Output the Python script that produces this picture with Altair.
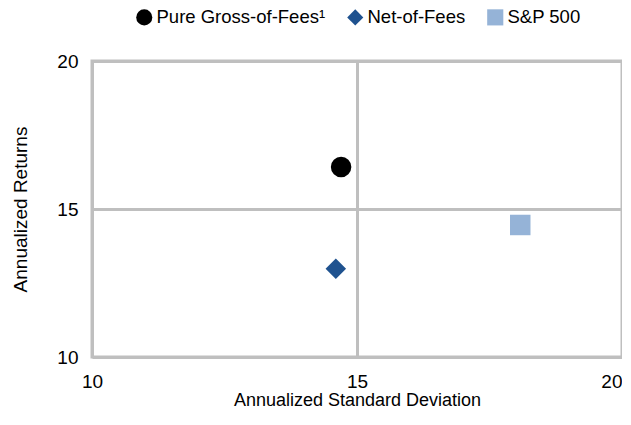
import altair as alt
import pandas as pd

series = ["Pure Gross-of-Fees\u00b9", "Net-of-Fees", "S&P 500"]
std_dev = [14.70, 14.60, 18.08]
returns = [16.42, 12.98, 14.46]
shapes = ["circle", "diamond", "square"]
colors = ["#000000", "#1F528F", "#95B3D7"]

df = pd.DataFrame({"series": series, "sd": std_dev, "ret": returns})

FONT = "Liberation Sans"
GRID = "#BFBFBF"
FS = 19

chart = alt.Chart(df).mark_point(filled=True, size=420, opacity=1).encode(
    x=alt.X("sd:Q", title="Annualized Standard Deviation",
            scale=alt.Scale(domain=[10, 20], nice=False, zero=False),
            axis=alt.Axis(values=[10, 15, 20], tickSize=0, labelPadding=15,
                          domain=False, gridColor=GRID, gridWidth=3,
                          labelAlign=alt.ExprRef("datum.value == 20 ? 'right' : 'center'"),
                          titleY=48, titleFontSize=18, titleBaseline="alphabetic",
                          labelFlush=False)),
    y=alt.Y("ret:Q", title="Annualized Returns",
            scale=alt.Scale(domain=[10, 20], nice=False, zero=False),
            axis=alt.Axis(values=[10, 15, 20], tickSize=0, labelPadding=14,
                          domain=False, gridColor=GRID, gridWidth=3,
                          titleX=-66, titleY=148, titleAngle=-90,
                          titleBaseline="alphabetic", titleAlign="center",
                          labelFlush=False)),
    shape=alt.Shape("series:N", scale=alt.Scale(domain=series, range=shapes),
                    legend=alt.Legend(title=None, orient="none", direction="horizontal",
                                      legendX=43, legendY=-53, symbolSize=260,
                                      labelOffset=3, columnPadding=20, labelLimit=400)),
    color=alt.Color("series:N", scale=alt.Scale(domain=series, range=colors)),
).properties(
    width=530, height=296,
    autosize=alt.AutoSizeParams(type="none"),
    padding={"left": 84, "top": 53, "right": 0, "bottom": 52},
).configure_view(
    stroke=GRID, strokeWidth=3
).configure_axis(
    labelFont=FONT, titleFont=FONT, labelFontSize=FS, titleFontSize=FS,
    labelColor="#000000", titleColor="#000000", titleFontWeight="normal"
).configure_legend(
    labelFont=FONT, labelFontSize=18.5, labelColor="#000000", symbolStrokeWidth=0
)

chart.save("out.html", embed_options={"renderer": "svg", "actions": False})
